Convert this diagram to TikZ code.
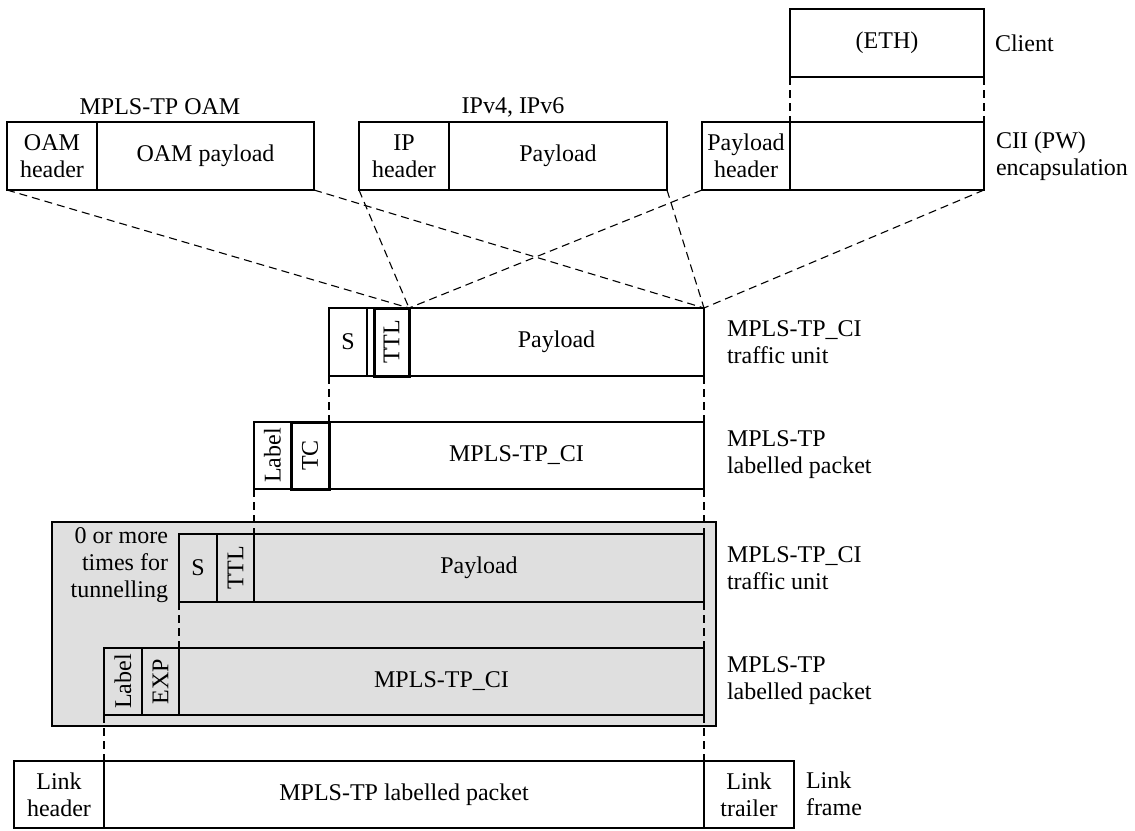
\documentclass[tikz,border=0pt]{standalone}
\usepackage{fontspec}
\usepackage{graphicx}
\setmainfont{Liberation Serif}
\definecolor{tgray}{RGB}{223,223,223}
\begin{document}
\begin{tikzpicture}[x=1pt,y=-1pt,
  every node/.style={font=\fontsize{24}{27}\selectfont, inner sep=0pt, outer sep=0pt},
  field/.style={draw, line width=1.1pt, anchor=north west, align=center},
  thickfield/.style={draw, line width=3pt, anchor=north west, align=center},
  sidelabel/.style={anchor=west, align=left},
  conn/.style={draw, line width=1.1pt, dash pattern=on 8pt off 5pt}
]
\useasboundingbox (0,0) rectangle (1135,830);

% gray tunnelling area
\node[field, fill=tgray, minimum width=664pt, minimum height=204pt] (tunnel) at (52,522) {};

% client
\node[field, minimum width=194pt, minimum height=68pt] (eth) at (790,9) {(ETH)};
\node[sidelabel] (lclient) at (995,43) {Client};

% CII encapsulation
\node[field, minimum width=88pt, minimum height=68pt] (pwhdr) at (702,122) {Payload\\header};
\node[field, minimum width=194pt, minimum height=68pt] (cii) at (790,122) {};
\node[sidelabel] (lcii) at (996,156) {CII (PW)\\encapsulation};

% OAM
\node (hoam) at (160,107) {MPLS-TP OAM};
\node[field, minimum width=90pt, minimum height=68pt] (oamh) at (7,122) {OAM\\header};
\node[field, minimum width=217pt, minimum height=68pt] (oamp) at (97,122) {OAM payload};

% IP
\node (hip) at (513,107) {IPv4, IPv6};
\node[field, minimum width=90pt, minimum height=68pt] (iph) at (359,122) {IP\\header};
\node[field, minimum width=218pt, minimum height=68pt] (ipp) at (449,122) {Payload};

% traffic unit 1
\node[field, minimum width=375pt, minimum height=68pt] (tu1) at (329,308) {};
\node[field, minimum width=38pt, minimum height=68pt] (s1) at (329,308) {S};
\node[field, minimum width=295pt, minimum height=68pt] (pl1) at (409,308) {Payload};
\node[thickfield, minimum width=35pt, minimum height=68pt] (ttl1) at (374,308) {\rotatebox{90}{TTL}};
\node[sidelabel] (l1) at (727,342) {MPLS-TP\_CI\\traffic unit};

% labelled packet 1
\node[field, minimum width=37pt, minimum height=67pt] (lab1) at (254,422) {\rotatebox{90}{Label}};
\node[field, minimum width=375pt, minimum height=67pt] (mp1) at (329,422) {MPLS-TP\_CI};
\node[thickfield, minimum width=38pt, minimum height=67pt] (tc1) at (291,422) {\rotatebox{90}{TC}};
\node[sidelabel] (l2) at (727,455) {MPLS-TP\\labelled packet};

% traffic unit 3
\node[anchor=east, align=right] (tt) at (168,565) {0 or more\\times for\\tunnelling};
\node[field, minimum width=38pt, minimum height=68pt] (s3) at (179,534) {S};
\node[field, minimum width=37pt, minimum height=68pt] (ttl3) at (217,534) {\rotatebox{90}{TTL}};
\node[field, minimum width=450pt, minimum height=68pt] (pl3) at (254,534) {Payload};
\node[sidelabel] (l3) at (727,568) {MPLS-TP\_CI\\traffic unit};

% labelled packet 2
\node[field, minimum width=38pt, minimum height=67pt] (lab2) at (104,648) {\rotatebox{90}{Label}};
\node[field, minimum width=37pt, minimum height=67pt] (exp2) at (142,648) {\rotatebox{90}{EXP}};
\node[field, minimum width=525pt, minimum height=67pt] (mp2) at (179,648) {MPLS-TP\_CI};
\node[sidelabel] (l4) at (727,681) {MPLS-TP\\labelled packet};

% link frame
\node[field, minimum width=90pt, minimum height=67pt] (lh) at (14,761) {Link\\header};
\node[field, minimum width=600pt, minimum height=67pt] (lp) at (104,761) {MPLS-TP labelled packet};
\node[field, minimum width=90pt, minimum height=67pt] (lt) at (704,761) {Link\\trailer};
\node[sidelabel] (llink) at (806,794) {Link\\frame};

% connectors
\path[conn] (eth.south west) -- (cii.north west);
\path[conn] (eth.south east) -- (cii.north east);
\path[conn] (oamh.south west) -- (ttl1.north east);
\path[conn] (oamp.south east) -- (pl1.north east);
\path[conn] (iph.south west) -- (ttl1.north east);
\path[conn] (ipp.south east) -- (pl1.north east);
\path[conn] (pwhdr.south west) -- (ttl1.north east);
\path[conn] (cii.south east) -- (pl1.north east);
\path[conn] (s1.south west) -- (mp1.north west);
\path[conn] (pl1.south east) -- (mp1.north east);
\path[conn] (lab1.south west) -- (pl3.north west);
\path[conn] (mp1.south east) -- (pl3.north east);
\path[conn] (s3.south west) -- (mp2.north west);
\path[conn] (pl3.south east) -- (mp2.north east);
\path[conn] (lab2.south west) -- (lp.north west);
\path[conn] (mp2.south east) -- (lp.north east);
\end{tikzpicture}
\end{document}
